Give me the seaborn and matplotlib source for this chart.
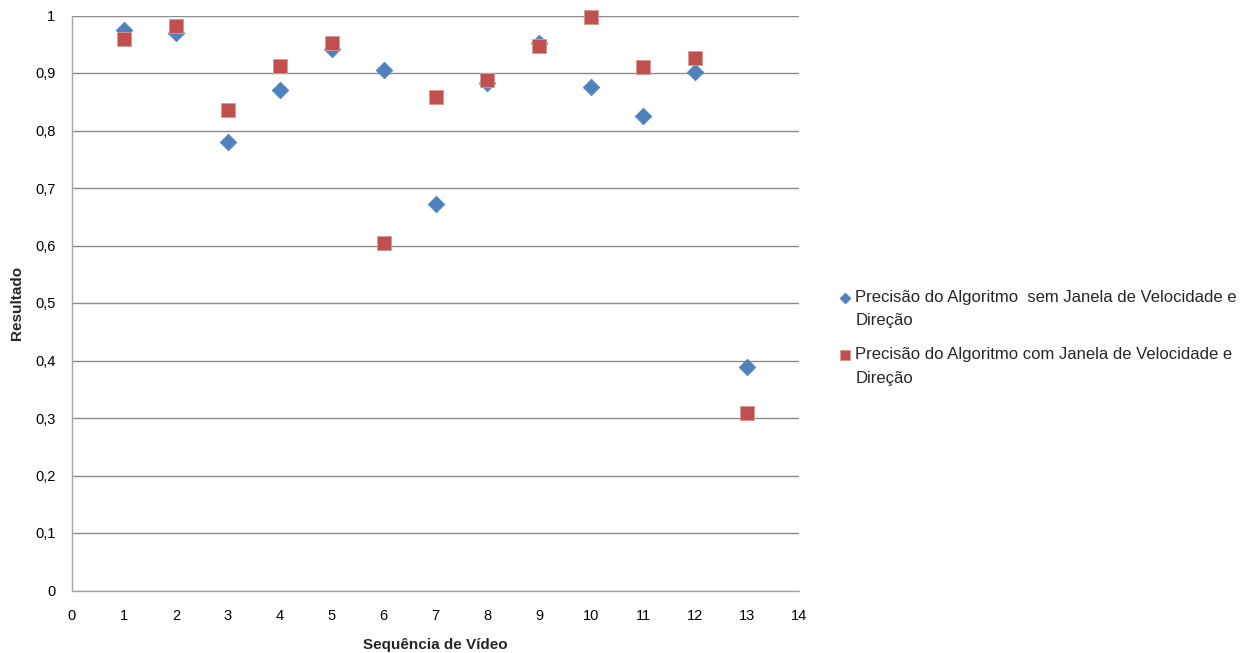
import matplotlib
matplotlib.use("Agg")
import matplotlib.pyplot as plt
import seaborn as sns
import pandas as pd

sequencias = list(range(1, 14))
sem_janela = [0.975, 0.969, 0.780, 0.870, 0.941, 0.906, 0.673, 0.882, 0.953, 0.875, 0.826, 0.902, 0.389]
com_janela = [0.960, 0.981, 0.835, 0.913, 0.953, 0.604, 0.859, 0.887, 0.947, 0.997, 0.911, 0.926, 0.308]
label_sem = ["Precisão do Algoritmo  sem Janela de Velocidade e", "Direção"]
label_com = ["Precisão do Algoritmo com Janela de Velocidade e", "Direção"]
x_ticks = list(range(0, 15))
y_ticks = [i / 10 for i in range(0, 11)]
y_tick_labels = ["0" if v == 0 else ("1" if v == 1 else f"{v:.1f}".replace(".", ",")) for v in y_ticks]

sns.set_style("white")
plt.rcParams['font.family'] = ['Liberation Sans', 'DejaVu Sans']

fig = plt.figure(figsize=(12.48, 6.53), dpi=100)
ax = fig.add_axes([72 / 1248, 1 - 590.5 / 653, (799 - 72) / 1248, (590.5 - 15.5) / 653])

df_sem = pd.DataFrame({"x": sequencias, "y": sem_janela})
df_com = pd.DataFrame({"x": sequencias, "y": com_janela})

sns.scatterplot(data=df_sem, x="x", y="y", ax=ax, marker="D", s=72, color="#4F81BD",
                edgecolor="#4F81BD", linewidth=0.5, label=label_sem[0], zorder=3, clip_on=False)
sns.scatterplot(data=df_com, x="x", y="y", ax=ax, marker="s", s=105, color="#C0504D",
                edgecolor="#D89896", linewidth=0.6, label=label_com[0], zorder=4, clip_on=False)

grid_c = "#8C8C8C"
axis_c = "#A6A6A6"
ax.set_xlim(0, 14)
ax.set_ylim(0, 1)
ax.set_xticks(x_ticks)
ax.set_xticklabels([str(t) for t in x_ticks])
ax.set_yticks(y_ticks)
ax.set_yticklabels(y_tick_labels)
ax.yaxis.grid(True, color=grid_c, linewidth=1.0)
ax.xaxis.grid(False)
ax.set_axisbelow(True)
for side in ["top", "right"]:
    ax.spines[side].set_visible(False)
for side in ["left", "bottom"]:
    ax.spines[side].set_color(axis_c)
    ax.spines[side].set_linewidth(1.0)
ax.tick_params(axis="both", which="both", direction="out", length=5, width=1,
               color=axis_c, labelsize=10.5, labelcolor="black")
ax.tick_params(axis="x", pad=8)
ax.tick_params(axis="y", pad=7)

ax.set_xlabel("Sequência de Vídeo", fontsize=11, fontweight="bold", labelpad=11)
ax.set_ylabel("Resultado", fontsize=11, fontweight="bold")
ax.yaxis.set_label_coords((24 - 72) / 727, 0.5)

leg_fs = 12.0
leg = ax.legend(loc="upper left", bbox_to_anchor=(838 / 1248, 1 - 290 / 653),
                bbox_transform=fig.transFigure, frameon=False, fontsize=leg_fs,
                handletextpad=0.15, labelspacing=2.55, handlelength=0.9,
                borderaxespad=0, borderpad=0, markerscale=0.65)

fig.canvas.draw()
renderer = fig.canvas.get_renderer()
for txt, lab in zip(leg.get_texts(), [label_sem, label_com]):
    bb = txt.get_window_extent(renderer)
    fig.text(bb.x0 / 1248, (bb.y0 - 23 + bb.height / 2) / 653, lab[1],
             fontsize=leg_fs, va="center", ha="left")

fig.savefig("out.png", dpi=100)
